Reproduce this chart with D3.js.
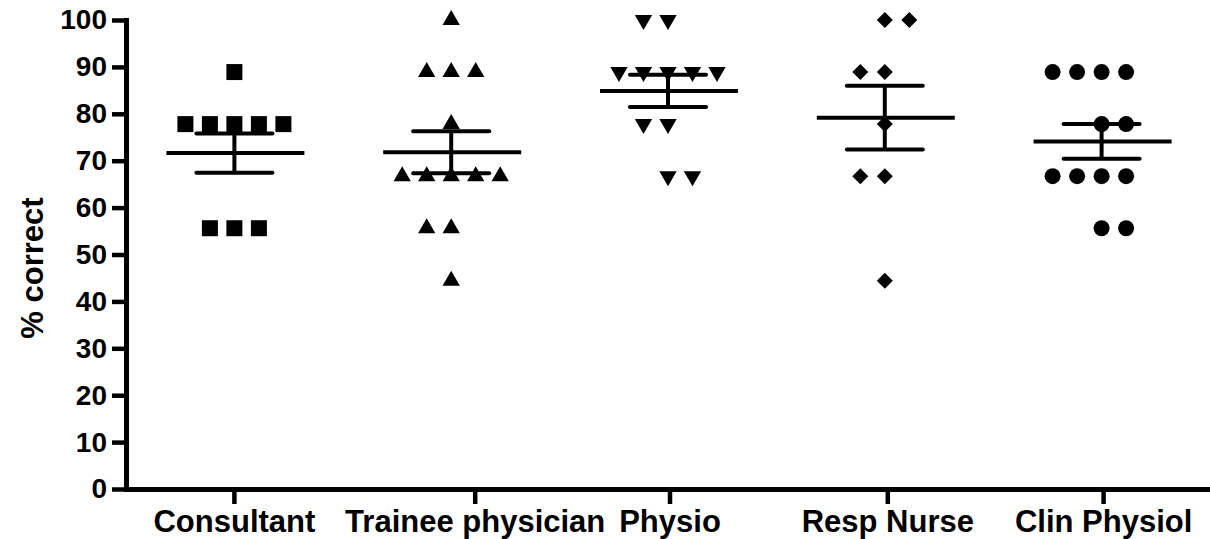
<!DOCTYPE html>
<html>
<head>
<meta charset="utf-8">
<script src="https://cdn.jsdelivr.net/npm/d3@7"></script>
<style>
  body { margin: 0; background: #fff; }
  svg { display: block; font-family: "Liberation Sans", Arial, sans-serif; font-weight: bold; }
</style>
</head>
<body>
<div id="chart"></div>
<script>
// categories and raw scores (% correct, in ninths)
var categories = ["Consultant", "Trainee physician", "Physio", "Resp Nurse", "Clin Physiol"];
var consultant = [88.9, 77.8, 77.8, 77.8, 77.8, 77.8, 55.6, 55.6, 55.6];
var trainee = [100, 88.9, 88.9, 88.9, 77.8, 66.7, 66.7, 66.7, 66.7, 66.7, 55.6, 55.6, 44.4];
var physio = [100, 100, 88.9, 88.9, 88.9, 88.9, 88.9, 77.8, 77.8, 66.7, 66.7];
var respNurse = [100, 100, 88.9, 88.9, 77.8, 66.7, 66.7, 44.4];
var clinPhysiol = [88.9, 88.9, 88.9, 88.9, 77.8, 77.8, 66.7, 66.7, 66.7, 66.7, 55.6, 55.6];
var yTicks = [0, 10, 20, 30, 40, 50, 60, 70, 80, 90, 100];

var groups = [consultant, trainee, physio, respNurse, clinPhysiol];
var symbols = ["square", "triangleUp", "triangleDown", "diamond", "circle"];

// which side the extra point sits on, for rows with an even count (top to bottom)
var evenRowSide = [[], [-1], [-1, -1, 1], [1, -1, -1], [-1, 1, -1, 1]];
var labelNudge = [0, 24, 2, 3, 2];

var width = 1210, height = 539;
var svg = d3.select("#chart").append("svg")
	.attr("width", width)
	.attr("height", height);

var x = d3.scalePoint()
	.domain(categories)
	.range([126, 1210])
	.padding(0.5);

var y = d3.scaleLinear()
	.domain([0, 100])
	.range([489, 20]);

var pointGap = 24.5;

const symbolPath = function (name) {
	if (name == "square") return d3.symbol(d3.symbolSquare, 256)();
	if (name == "triangleUp" || name == "triangleDown") return d3.symbol(d3.symbolTriangle, 130)();
	if (name == "diamond") return d3.symbol(d3.symbolSquare, 128)();
	return d3.symbol(d3.symbolCircle, 201)();
};
const symbolRotate = function (name) {
	if (name == "triangleDown") return 180;
	if (name == "diamond") return 45;
	return 0;
};

// points
groups.forEach(function (vals, gi) {
	var cat = categories[gi];
	var rows = d3.groups(vals, v => v).sort((a, b) => b[0] - a[0]);
	var evenIdx = 0;
	var pts = [];
	rows.forEach(function (r) {
		var n = r[1].length;
		var shift = 0;
		if (n % 2 == 0) {
			shift = evenRowSide[gi][evenIdx] * 0.5;
			evenIdx++;
		}
		r[1].forEach(function (v, i) {
			pts.push({ v: v, off: (i - (n - 1) / 2) + shift });
		});
	});
	var g = svg.append("g").attr("class", "group");
	g.selectAll("path.pt")
		.data(pts)
		.enter().append("path")
		.attr("class", "pt")
		.attr("d", symbolPath(symbols[gi]))
		.attr("transform", d => "translate(" + (x(cat) + d.off * pointGap) + "," + y(d.v) + ") rotate(" + symbolRotate(symbols[gi]) + ")")
		.attr("fill", "#000");

	// mean and SEM
	var mean = d3.mean(vals);
	var sem = d3.deviation(vals) / Math.sqrt(vals.length);
	var cx = x(cat);
	g.append("line")
		.attr("x1", cx - 68).attr("x2", cx + 70)
		.attr("y1", y(mean)).attr("y2", y(mean))
		.attr("stroke", "#000").attr("stroke-width", 4);
	g.append("line")
		.attr("x1", cx).attr("x2", cx)
		.attr("y1", y(mean + sem)).attr("y2", y(mean - sem))
		.attr("stroke", "#000").attr("stroke-width", 4);
	[mean + sem, mean - sem].forEach(function (v) {
		g.append("line")
			.attr("x1", cx - 38).attr("x2", cx + 38)
			.attr("y1", y(v)).attr("y2", y(v))
			.attr("stroke", "#000").attr("stroke-width", 4)
			.attr("stroke-linecap", "round");
	});
});

// y axis
var yAxis = svg.append("g")
	.attr("transform", "translate(126,0)")
	.call(d3.axisLeft(y).tickValues(yTicks).tickSize(14).tickSizeOuter(0).tickPadding(5));
yAxis.select(".domain").attr("stroke-width", 5).attr("stroke-linecap", "square");
yAxis.selectAll(".tick line").attr("stroke-width", 4.5);
yAxis.selectAll(".tick text")
	.attr("font-size", 28)
	.attr("font-family", "'Liberation Sans', Arial, sans-serif")
	.attr("font-weight", "bold")
	.attr("fill", "#000");

// x axis
var xAxis = svg.append("g")
	.attr("transform", "translate(0,489)")
	.call(d3.axisBottom(x).tickSize(15).tickSizeOuter(0));
xAxis.select(".domain").attr("stroke-width", 5);
xAxis.selectAll(".tick")
	.attr("transform", (d, i) => "translate(" + (x(d) + labelNudge[i]) + ",0)");
xAxis.selectAll(".tick line").attr("stroke-width", 4.5);
xAxis.selectAll(".tick text")
	.attr("y", 43)
	.attr("dy", 0)
	.attr("font-size", 31)
	.attr("font-family", "'Liberation Sans', Arial, sans-serif")
	.attr("font-weight", "bold")
	.attr("fill", "#000");

svg.append("text")
	.attr("transform", "translate(43,268) rotate(-90)")
	.attr("text-anchor", "middle")
	.attr("font-size", 31)
	.attr("fill", "#000")
	.text("% correct");
</script>
</body>
</html>
